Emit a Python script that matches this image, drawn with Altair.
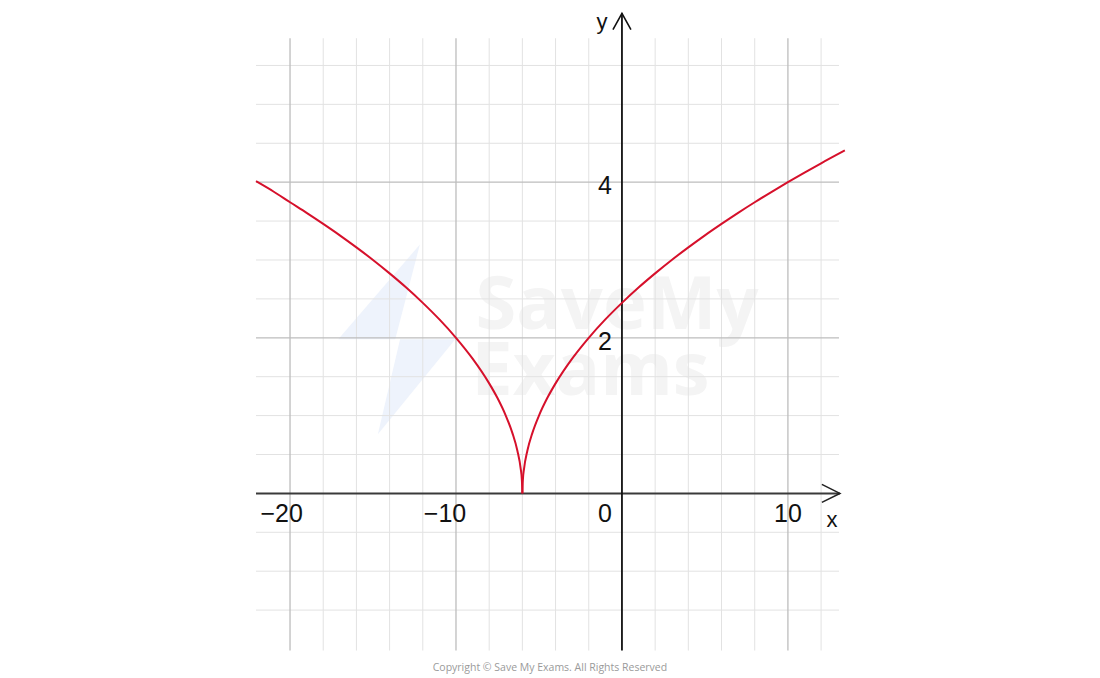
import altair as alt
import pandas as pd

# ---- curve values (two branches meeting at the cusp) ----
left_x = [-22.05, -21, -20, -19, -18, -17, -16, -15, -14, -13, -12, -11, -10, -9, -8, -7.5, -7, -6.6, -6.3, -6.1, -6.03, -6.0]
left_y = [4.012, 3.880, 3.742, 3.606, 3.464, 3.317, 3.162, 3.0, 2.828, 2.646, 2.449, 2.236, 2.0, 1.732, 1.414, 1.225, 1.0, 0.775, 0.548, 0.316, 0.173, 0.0]
right_x = [-6.0, -5.97, -5.9, -5.7, -5.4, -5.0, -4.5, -4, -3, -2, -1, 0, 1, 2, 3, 4, 5, 6, 7, 8, 9, 10, 11, 12, 13.43]
right_y = [0.0, 0.173, 0.316, 0.548, 0.775, 1.0, 1.225, 1.414, 1.732, 2.0, 2.236, 2.449, 2.646, 2.828, 3.0, 3.162, 3.317, 3.464, 3.606, 3.742, 3.873, 4.0, 4.123, 4.243, 4.408]

# ---- grid ----
minor_x = [-18, -16, -14, -12, -8, -6, -4, -2, 2, 4, 6, 8, 12]
major_x = [-20, -10, 10]
minor_y = [-1.5, -1, -0.5, 0.5, 1, 1.5, 2.5, 3, 3.5, 4.5, 5, 5.5]
major_y = [2, 4]
grid_x_range = [-22.05, 13.08]
grid_y_range = [-2.02, 5.85]
x_axis_end = 13.13
y_axis_end = 6.17

# ---- labels ----
tick_text = ["\u221220", "\u221210", "0", "10", "4", "2"]
tick_x = [-20.5, -10.66, -1.02, 10.0, -1.02, -1.02]
tick_y = [-0.27, -0.27, -0.26, -0.27, 3.95, 1.95]
axis_text = ["x", "y"]
axis_tx = [12.65, -1.2]
axis_ty = [-0.34, 6.06]

# ---- watermark ----
wm_text = ["SaveMy", "Exams"]
wm_x = [-0.3, -1.9]
wm_y = [2.4, 1.55]
logo_x = [-13.55]
logo_y = [1.98]

XD = [-22.05, 13.5]
YD = [-2.0, 6.2]
xs = alt.Scale(domain=XD, nice=False, zero=False)
ys = alt.Scale(domain=YD, nice=False, zero=False)

curve = pd.DataFrame(
    {"x": left_x + right_x, "y": left_y + right_y,
     "branch": ["L"] * len(left_x) + ["R"] * len(right_x)}
)

def enc(ch, **kw):
    return ch.encode(x=alt.X("x:Q", scale=xs, axis=None), y=alt.Y("y:Q", scale=ys, axis=None), **kw)

def vrules(vals, color, w):
    df = pd.DataFrame({"x": vals, "y": grid_y_range[0], "y2": grid_y_range[1]})
    return enc(alt.Chart(df).mark_rule(color=color, strokeWidth=w), y2="y2:Q")

def hrules(vals, color, w):
    df = pd.DataFrame({"y": vals, "x": grid_x_range[0], "x2": grid_x_range[1]})
    return enc(alt.Chart(df).mark_rule(color=color, strokeWidth=w), x2="x2:Q")

grid = (
    vrules(minor_x, "#e2e2e2", 1)
    + hrules(minor_y, "#e2e2e2", 1)
    + vrules(major_x, "#bdbdbd", 1.3)
    + hrules(major_y, "#bdbdbd", 1.3)
)

watermark = enc(
    alt.Chart(pd.DataFrame({"t": wm_text, "x": wm_x, "y": wm_y})).mark_text(
        font="Open Sans", fontSize=74, fontWeight="bold", color="#f4f4f4", align="center", baseline="middle"
    ),
    text="t:N",
)
logo = enc(
    alt.Chart(pd.DataFrame({"x": logo_x, "y": logo_y})).mark_point(
        shape="M0.38,-1.58L-0.98,0L0.05,0L-0.32,1.58L0.97,0L-0.03,0Z",
        size=14400, filled=True, color="#eef3fc", opacity=1, strokeWidth=0
    )
)

xaxis = alt.Chart(pd.DataFrame({"x": [grid_x_range[0]], "x2": [x_axis_end], "y": [0]})).mark_rule(
    color="#3a3a3a", strokeWidth=2
).encode(x=alt.X("x:Q", scale=xs, axis=None), x2="x2:Q", y=alt.Y("y:Q", scale=ys, axis=None))
yaxis = alt.Chart(pd.DataFrame({"x": [0], "y": [grid_y_range[0]], "y2": [y_axis_end]})).mark_rule(
    color="#111111", strokeWidth=1.8
).encode(x=alt.X("x:Q", scale=xs, axis=None), y=alt.Y("y:Q", scale=ys, axis=None), y2="y2:Q")

xarrow = enc(alt.Chart(pd.DataFrame({"x": [x_axis_end], "y": [0]})).mark_point(
    shape="M-2,-1L0,0L-2,1", size=324, filled=False, color="#222222", strokeWidth=1.6, opacity=1
))
yarrow = enc(alt.Chart(pd.DataFrame({"x": [0], "y": [y_axis_end]})).mark_point(
    shape="M-1,1.8L0,0L1,1.8", size=324, filled=False, color="#111111", strokeWidth=1.6, opacity=1
))

line = enc(
    alt.Chart(curve).mark_line(color="#d6102b", strokeWidth=2, interpolate="monotone"),
    detail="branch:N",
)

ticks = enc(
    alt.Chart(pd.DataFrame({"t": tick_text, "x": tick_x, "y": tick_y})).mark_text(
        font="Liberation Sans", fontSize=25, color="#111111", align="center", baseline="middle"
    ),
    text="t:N",
)

axlab = enc(
    alt.Chart(pd.DataFrame({"t": axis_text, "x": axis_tx, "y": axis_ty})).mark_text(
        font="Liberation Sans", fontSize=22, color="#111111", align="center", baseline="middle"
    ),
    text="t:N",
)

copy_df = pd.DataFrame({"t": ["Copyright \u00a9 Save My Exams. All Rights Reserved"], "x": [-4.34], "y": [-2.24]})
copyright = enc(
    alt.Chart(copy_df).mark_text(
        font="Open Sans", fontSize=10.5, color="#9a9a9a", align="center", baseline="middle"
    ),
    text="t:N",
)

chart = (
    alt.layer(logo, watermark, grid, xaxis, yaxis, xarrow, yarrow, line, ticks, axlab, copyright)
    .properties(
        width=590,
        height=638,
        autosize=alt.AutoSizeParams(type="none"),
        padding={"left": 248, "top": 3, "right": 240, "bottom": 25},
    )
    .configure_view(stroke=None)
)

chart.save("out.html", embed_options={"renderer": "svg", "actions": False})
